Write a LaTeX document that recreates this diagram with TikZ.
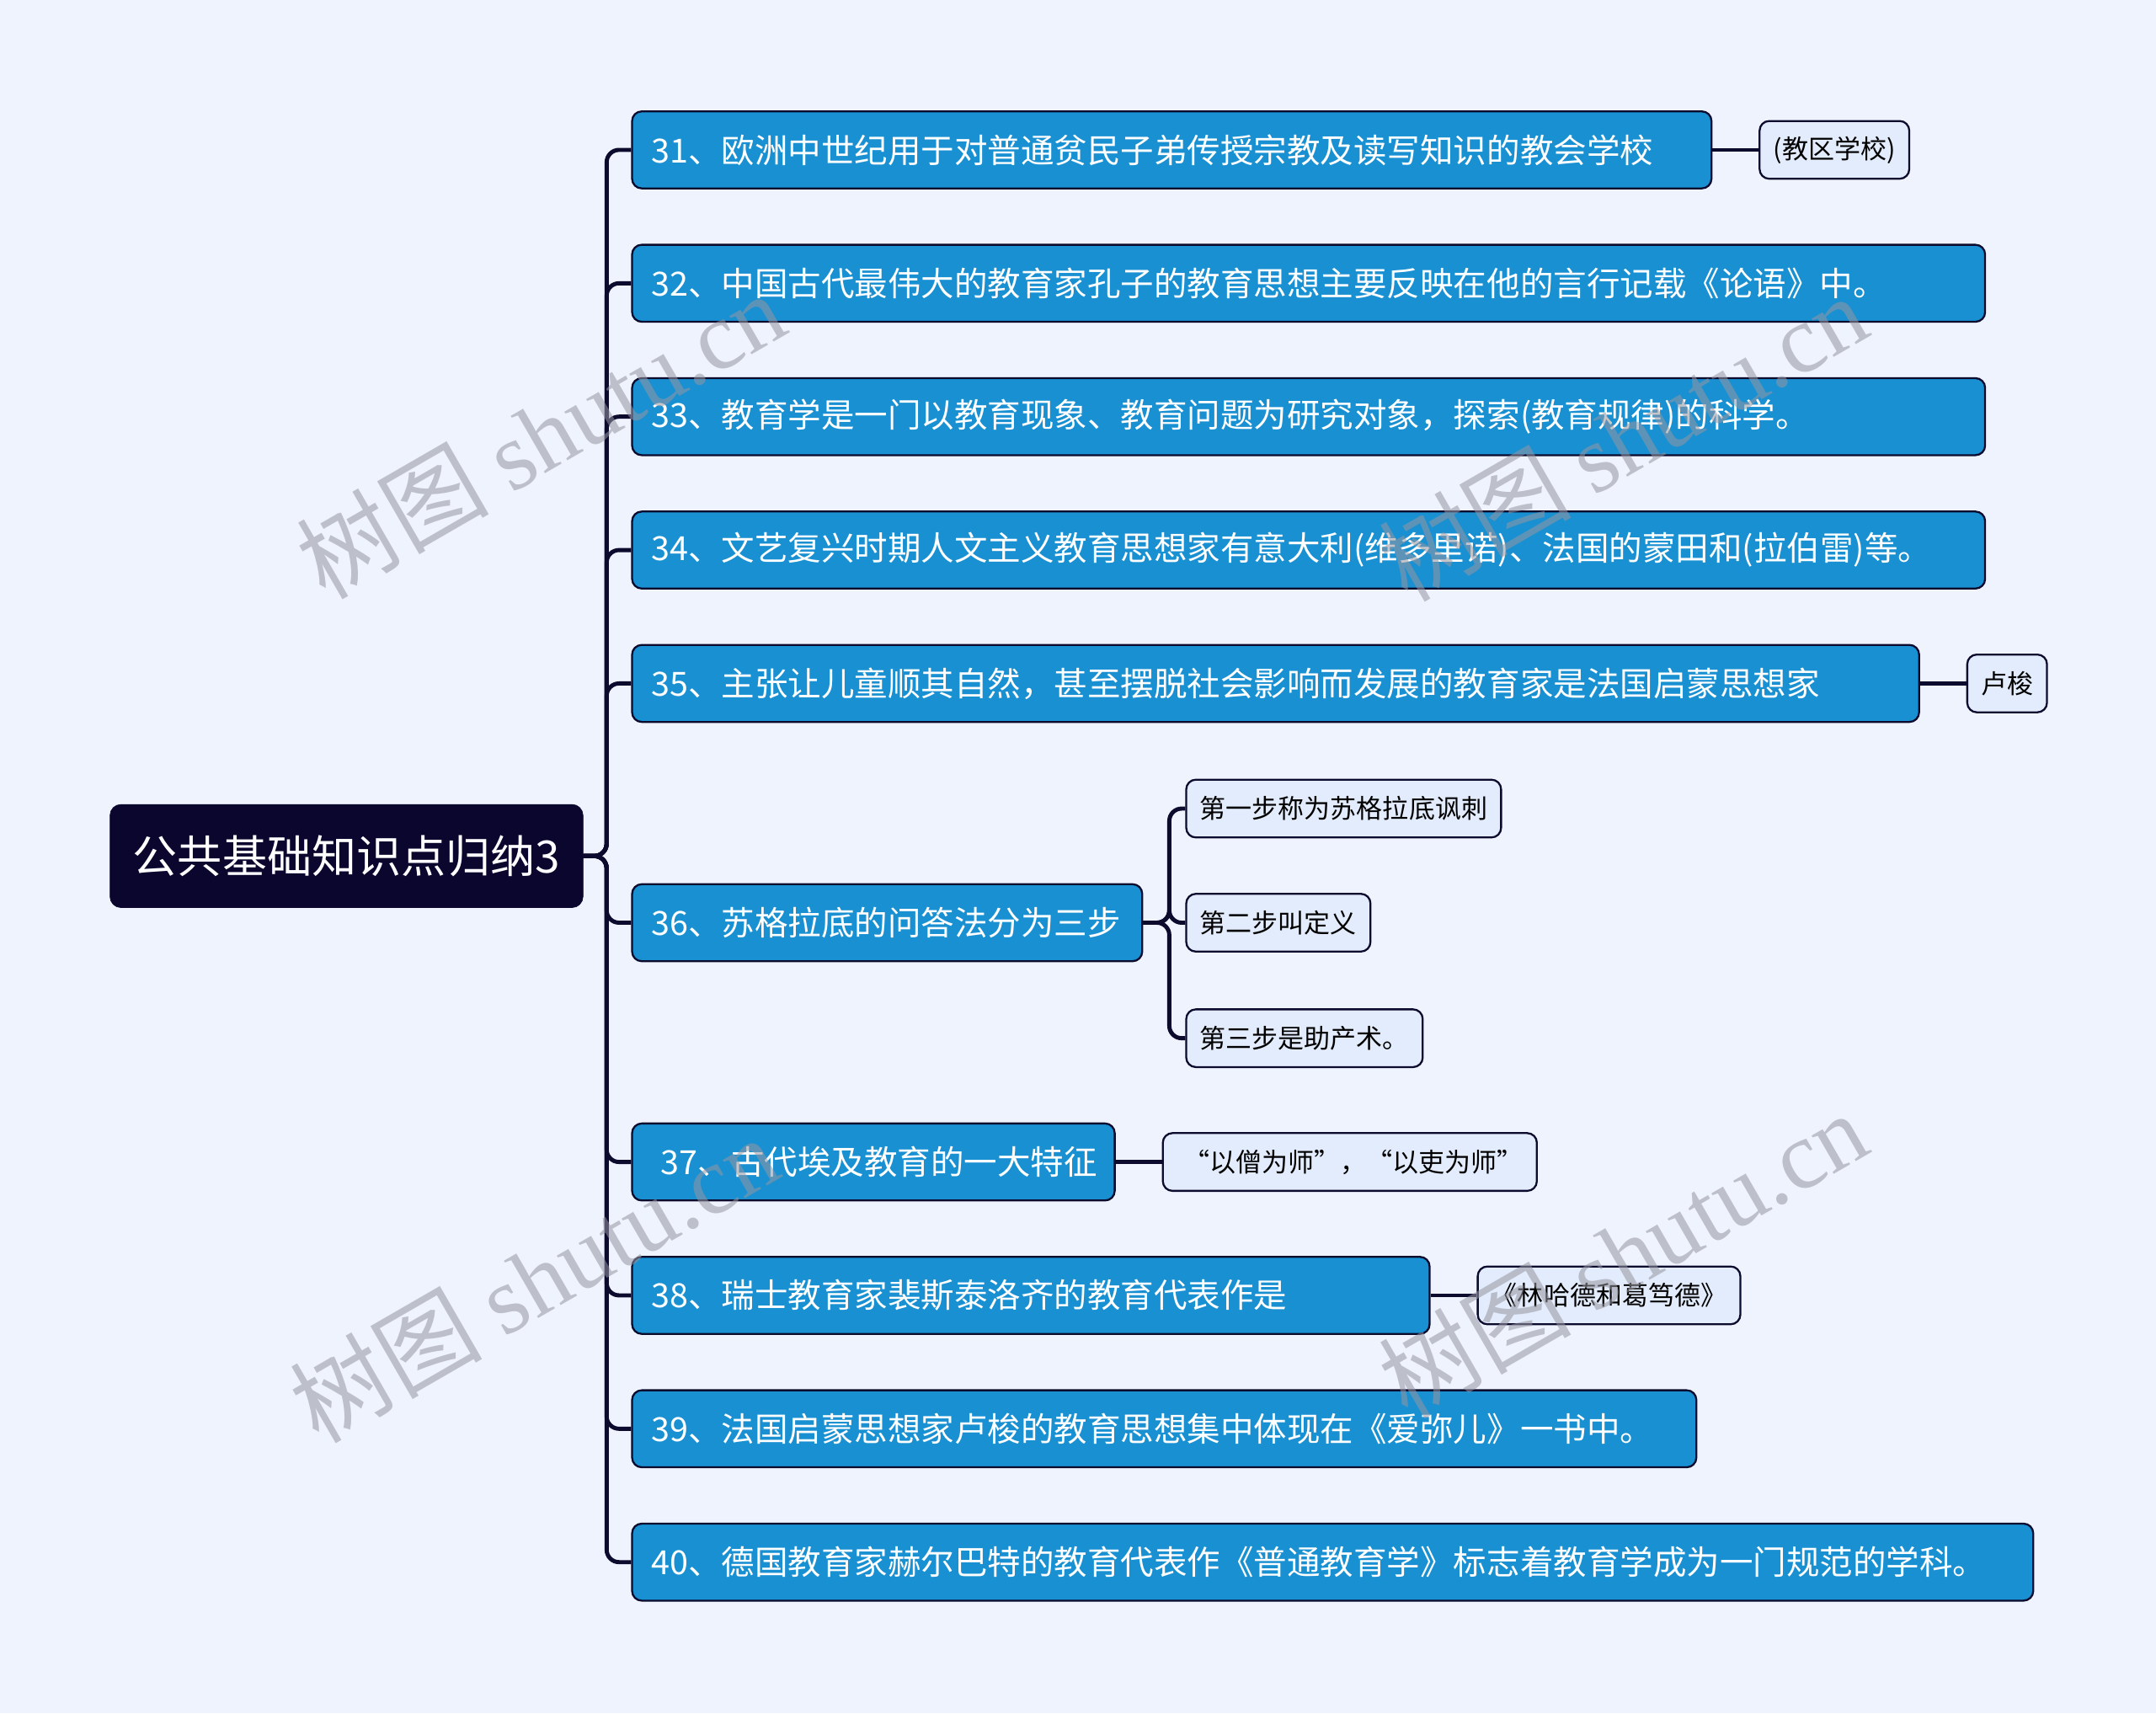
\documentclass[tikz,border=0pt]{standalone}
\usepackage{fontspec}
\setmainfont{Noto Sans CJK SC}
\newfontfamily\wmlatin{Liberation Serif}
\definecolor{bgcolor}{RGB}{238,243,254}
\definecolor{topicblue}{RGB}{24,144,210}
\definecolor{linenavy}{RGB}{12,10,45}
\definecolor{rootnavy}{RGB}{10,6,46}
\definecolor{leafblue}{RGB}{227,236,252}
\definecolor{wmgray}{RGB}{150,150,160}
\begin{document}
\begin{tikzpicture}[x=1pt,y=-1pt,
        root/.style={fill=rootnavy, draw=rootnavy, rounded corners=8pt, text=white,
            font=\fontsize{32.5}{36}\selectfont, minimum width=344pt, minimum height=75pt, inner sep=0pt},
        topic/.style={fill=topicblue, draw=linenavy, line width=1.4pt, rounded corners=7pt, text=white,
            font=\fontsize{24.2}{28}\selectfont, anchor=west, minimum height=56pt, inner xsep=14pt,
            inner ysep=0pt, text width=#1, align=left},
        leaf/.style={fill=leafblue, draw=linenavy, line width=1.4pt, rounded corners=7pt,
            font=\fontsize{19}{23}\selectfont, anchor=west, minimum height=42pt, inner xsep=10pt, inner ysep=0pt},
        link/.style={draw=linenavy, line width=3pt, rounded corners=9pt},
        wmark/.style={text=wmgray, opacity=0.55, font=\fontsize{70}{76}\selectfont, rotate=30}]
        \fill [bgcolor] (0,0) rectangle (1568,1246);
        \useasboundingbox (0,0) rectangle (1568,1246);

        \node [root] (root) at (252,622.5) {公共基础知识点归纳3};

        \node [topic=757pt] (t31) at (459,109) {31、欧洲中世纪用于对普通贫民子弟传授宗教及读写知识的教会学校};
        \node [topic=956pt] (t32) at (459,206) {32、中国古代最伟大的教育家孔子的教育思想主要反映在他的言行记载《论语》中。};
        \node [topic=956pt] (t33) at (459,303) {33、教育学是一门以教育现象、教育问题为研究对象，探索(教育规律)的科学。};
        \node [topic=956pt] (t34) at (459,400) {34、文艺复兴时期人文主义教育思想家有意大利(维多里诺)、法国的蒙田和(拉伯雷)等。};
        \node [topic=908pt] (t35) at (459,497) {35、主张让儿童顺其自然，甚至摆脱社会影响而发展的教育家是法国启蒙思想家};
        \node [topic=343pt] (t36) at (459,671) {36、苏格拉底的问答法分为三步};
        \node [topic=323pt] (t37) at (459,845) {\hspace*{7pt}37、古代埃及教育的一大特征};
        \node [topic=552pt] (t38) at (459,942) {38、瑞士教育家裴斯泰洛齐的教育代表作是};
        \node [topic=746pt] (t39) at (459,1039) {39、法国启蒙思想家卢梭的教育思想集中体现在《爱弥儿》一书中。};
        \node [topic=991pt] (t40) at (459,1136) {40、德国教育家赫尔巴特的教育代表作《普通教育学》标志着教育学成为一门规范的学科。};

        \node [leaf] (l31) at (1279,109) {(教区学校)};
        \node [leaf] (l35) at (1430,497) {卢梭};
        \node [leaf] (l36a) at (862,588) {第一步称为苏格拉底讽刺};
        \node [leaf] (l36b) at (862,671) {第二步叫定义};
        \node [leaf] (l36c) at (862,755) {第三步是助产术。};
        \node [leaf] (l37) at (845,845) {\hspace*{5pt}“以僧为师”，“以吏为师”};
        \node [leaf] (l38) at (1074,942) {《林哈德和葛笃德》};

        \foreach \t in {t31,t32,t33,t34,t35,t36,t37,t38,t39,t40}
            \draw [link] (root.east) -- ++(17,0) |- (\t.west);
        \foreach \l in {l36a,l36b,l36c}
            \draw [link] (t36.east) -- ++(19,0) |- (\l.west);
        \draw [link] (t31.east) -- (l31.west);
        \draw [link] (t35.east) -- (l35.west);
        \draw [link] (t37.east) -- (l37.west);
        \draw [link] (t38.east) -- (l38.west);

        % watermark
        \node [wmark] (wm1) at (393,316) {树图 {\wmlatin shutu.cn}};
        \node [wmark] (wm2) at (1180,318) {树图 {\wmlatin shutu.cn}};
        \node [wmark] (wm3) at (388,930) {树图 {\wmlatin shutu.cn}};
        \node [wmark] (wm4) at (1180,912) {树图 {\wmlatin shutu.cn}};
    \end{tikzpicture}
\end{document}
